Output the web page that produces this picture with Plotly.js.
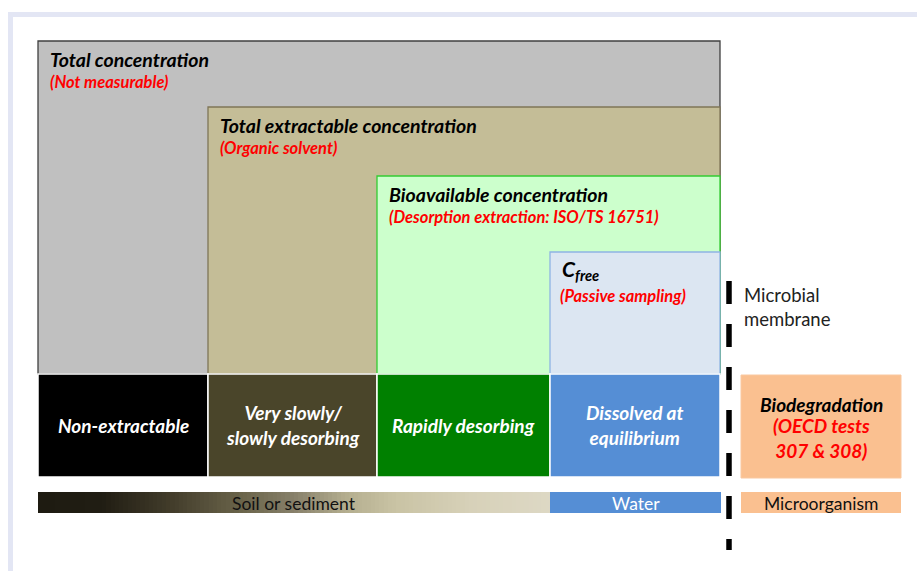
<!DOCTYPE html>
<html>
<head>
<meta charset="utf-8">
<script src="https://cdn.plot.ly/plotly-3.0.1.min.js"></script>
<style>html,body{margin:0;padding:0;background:#fff;}#chart{width:917px;height:571px;}</style>
</head>
<body>
<div id="chart"></div>
<script>
// ---- Data ----
// Nested concentration boxes (upper part)
const concTitles = ["Total concentration", "Total extractable concentration", "Bioavailable concentration", "C<sub>free</sub>"];
const concMethods = ["(Not measurable)", "(Organic solvent)", "(Desorption extraction: ISO/TS 16751)", "(Passive sampling)"];
const concStart = [38, 208, 377, 550];     // left edge of each box (px scale)
const concTop = [41, 107, 176, 252];       // top edge of each box (px scale)
const concFill = ["#c0c0c0", "#c4bd97", "#ccffcc", "#dce6f2"];
const concLine = ["#404040", "#7f7657", "#33cc33", "#8eb4e3"];
// Fractions (lower row)
const fractionLabels = ["Non-extractable", "Very slowly/<br>slowly desorbing", "Rapidly desorbing", "Dissolved at<br>equilibrium"];
const fractionEdges = [38, 208, 377, 550, 720];
const fractionFill = ["#000000", "#4a452a", "#008000", "#558ed5"];
// Compartment bars
const compartmentLabels = ["Soil or sediment", "Water", "Microorganism"];
const compartmentEdges = [[38, 550], [550, 721], [741, 901]];
// Biodegradation
const bioTitle = "Biodegradation";
const bioMethod = "(OECD tests<br>307 & 308)";
const membraneLabel = "Microbial<br>membrane";
const membraneSpan = [281, 550];

// ---- Build ----
const shapes = [];
const ann = [];
const F = "Lato, 'Open Sans', sans-serif";
const rowTop = 374, rowBot = 477, barTop = 492, barBot = 513, rightEdge = 720;

// frame
shapes.push({type:'rect', xref:'x', yref:'y', x0:8, x1:917, y0:12, y1:17, fillcolor:'#e3e6f4', line:{width:0}, layer:'below'});
shapes.push({type:'rect', xref:'x', yref:'y', x0:8, x1:13, y0:12, y1:571, fillcolor:'#e3e6f4', line:{width:0}, layer:'below'});

for (let i = 0; i < concTitles.length; i++) {
  shapes.push({type:'rect', xref:'x', yref:'y', x0:concStart[i], x1:rightEdge, y0:concTop[i], y1:rowTop,
    fillcolor:concFill[i], line:{color:concLine[i], width:1.3}});
  const tx = concStart[i] + 10;
  ann.push({x:tx, y:concTop[i] + 18, xref:'x', yref:'y', xanchor:'left', yanchor:'middle', showarrow:false,
    text:'<b><i>' + concTitles[i] + '</i></b>', font:{family:F, size:i===3?21:19.5, color:'#000'}});
  ann.push({x:tx - (i===3?2:0), y:concTop[i] + (i===3 ? 44 : 40.5), xref:'x', yref:'y', xanchor:'left', yanchor:'middle', showarrow:false,
    text:'<b><i>' + concMethods[i] + '</i></b>', font:{family:F, size:16.5, color:'#ff0000'}});
}

for (let i = 0; i < fractionLabels.length; i++) {
  const x0 = fractionEdges[i], x1 = fractionEdges[i+1];
  shapes.push({type:'rect', xref:'x', yref:'y', x0:x0, x1:x1, y0:rowTop, y1:rowBot,
    fillcolor:fractionFill[i], line:{color:'#ffffff', width:1.5}});
  ann.push({x:(x0+x1)/2, y:(rowTop+rowBot)/2 - 0.5, xref:'x', yref:'y', xanchor:'center', yanchor:'middle', showarrow:false,
    text:'<b><i>' + fractionLabels[i] + '</i></b>', font:{family:F, size:19, color:'#ffffff'}});
}

// biodegradation box
shapes.push({type:'rect', xref:'x', yref:'y', x0:741, x1:901, y0:375, y1:478, fillcolor:'#fac090', line:{color:'#f9c8a0', width:1}});
ann.push({x:821, y:404, xref:'x', yref:'y', xanchor:'center', yanchor:'middle', showarrow:false,
  text:'<b><i>' + bioTitle + '</i></b>', font:{family:F, size:19, color:'#000'}});
ann.push({x:821, y:438, xref:'x', yref:'y', xanchor:'center', yanchor:'middle', showarrow:false,
  text:'<b><i>' + bioMethod + '</i></b>', font:{family:F, size:19, color:'#ff0000'}});

// compartment bars (soil one drawn via heatmap gradient)
const barColors = [null, '#558ed5', '#fac090'];
const barText = ['#111111', '#ffffff', '#111111'];
for (let i = 0; i < compartmentLabels.length; i++) {
  const [a, b] = compartmentEdges[i];
  if (barColors[i]) shapes.push({type:'rect', xref:'x', yref:'y', x0:a, x1:b, y0:barTop, y1:barBot, fillcolor:barColors[i], line:{width:0}});
  ann.push({x:(a+b)/2, y:(barTop+barBot)/2 + 1, xref:'x', yref:'y', xanchor:'center', yanchor:'middle', showarrow:false,
    text:compartmentLabels[i], font:{family:F, size:17.5, color:barText[i]}});
}

// membrane label
ann.push({x:742, y:307, xref:'x', yref:'y', xanchor:'left', yanchor:'middle', showarrow:false, align:'left',
  text:membraneLabel, font:{family:F, size:18.5, color:'#222'}});

// gradient heatmap for soil bar
const n = 120;
const gx = [], gz = [];
const [sa, sb] = compartmentEdges[0];
for (let k = 0; k <= n; k++) gx.push(sa + (sb - sa) * k / n);
for (let k = 0; k < n; k++) gz.push(k / (n - 1));
const soilScale = [[0,'#1e1b11'],[0.12,'#201d13'],[0.25,'#403a29'],[0.4,'#6b654b'],[0.5,'#87806a'],[0.6,'#b3ad8e'],[0.7,'#c9c3a4'],[0.85,'#d7d1b9'],[1,'#ddd8c4']];

const traces = [
  {type:'heatmap', x:gx, y:[barTop, barBot], z:[gz], colorscale:soilScale, showscale:false, hoverinfo:'skip', zmin:0, zmax:1},
  {type:'scatter', mode:'lines', x:[729, 729], y:membraneSpan, line:{color:'#000', width:5.5, dash:'23px,20px'}, hoverinfo:'skip', showlegend:false}
];

const layout = {
  width:917, height:571, margin:{l:0, r:0, t:0, b:0},
  paper_bgcolor:'#ffffff', plot_bgcolor:'#ffffff', showlegend:false,
  xaxis:{range:[0, 917], visible:false, fixedrange:true},
  yaxis:{range:[571, 0], visible:false, fixedrange:true},
  shapes:shapes, annotations:ann
};
Plotly.newPlot('chart', traces, layout, {displayModeBar:false, staticPlot:true});
</script>
</body>
</html>
